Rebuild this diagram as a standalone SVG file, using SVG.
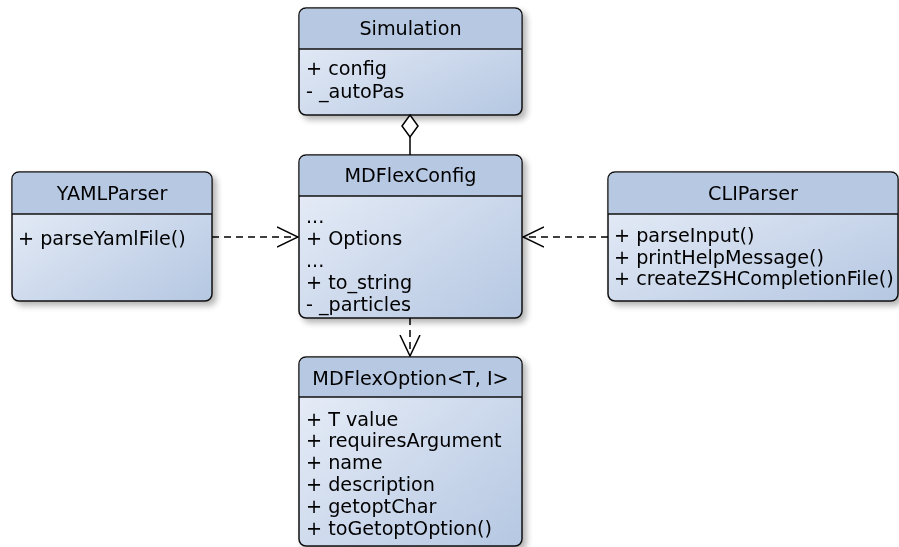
<svg xmlns="http://www.w3.org/2000/svg" width="899" height="547" viewBox="0 0 899 547">
<defs>
<linearGradient id="body" x1="0" y1="0" x2="1" y2="1">
<stop offset="0" stop-color="#ebf0f9"/>
<stop offset="1" stop-color="#b5c7e2"/>
</linearGradient>
<filter id="shadow" x="-10%" y="-10%" width="130%" height="130%">
<feGaussianBlur in="SourceAlpha" stdDeviation="3"/>
<feOffset dx="4" dy="4" result="b"/>
<feComponentTransfer><feFuncA type="linear" slope="0.3"/></feComponentTransfer>
<feMerge><feMergeNode/><feMergeNode in="SourceGraphic"/></feMerge>
</filter>
<marker id="open" viewBox="0 0 22 22" markerWidth="22" markerHeight="22" refX="21" refY="11" orient="auto" markerUnits="userSpaceOnUse">
<path d="M0,1 L21,11 L0,21" fill="none" stroke="#000" stroke-width="1.5"/>
</marker>
</defs>
<style>
.box{fill:url(#body);stroke:#111;stroke-width:1.5}
.hdr{fill:#b7c8e3}
.div{stroke:#111;stroke-width:1.5}
text{font-family:"DejaVu Sans","Liberation Sans",sans-serif;font-size:19.2px;fill:#000}
.t{text-anchor:middle}
.c{fill:none;stroke:#000;stroke-width:1.5}
.d{stroke-dasharray:7,5}
</style>
<g id="Simulation" filter="url(#shadow)">
<rect class="box" x="299" y="8" width="223" height="107" rx="7"/>
<path class="hdr" d="M306,8.75 H515 A6.25,6.25 0 0 1 521.25,15 V49 H299.75 V15 A6.25,6.25 0 0 1 306,8.75 Z"/>
<line class="div" x1="299" y1="49" x2="522" y2="49"/>
<text class="t" x="410.5" y="35">Simulation</text>
<text x="306" y="75">+ config</text>
<text x="306" y="98">- _autoPas</text>
</g>
<g id="MDFlexConfig" filter="url(#shadow)">
<rect class="box" x="299" y="155" width="223" height="163" rx="7"/>
<path class="hdr" d="M306,155.75 H515 A6.25,6.25 0 0 1 521.25,162 V196 H299.75 V162 A6.25,6.25 0 0 1 306,155.75 Z"/>
<line class="div" x1="299" y1="196" x2="522" y2="196"/>
<text class="t" x="410.5" y="182">MDFlexConfig</text>
<text x="306" y="223">...</text>
<text x="306" y="245">+ Options</text>
<text x="306" y="267">...</text>
<text x="306" y="289">+ to_string</text>
<text x="306" y="311">- _particles</text>
</g>
<g id="YAMLParser" filter="url(#shadow)">
<rect class="box" x="12" y="172" width="200" height="129" rx="7"/>
<path class="hdr" d="M19,172.75 H205 A6.25,6.25 0 0 1 211.25,179 V214 H12.75 V179 A6.25,6.25 0 0 1 19,172.75 Z"/>
<line class="div" x1="12" y1="214" x2="212" y2="214"/>
<text class="t" x="112" y="200">YAMLParser</text>
<text x="18" y="245">+ parseYamlFile()</text>
</g>
<g id="CLIParser" filter="url(#shadow)">
<rect class="box" x="608" y="172" width="290" height="129" rx="7"/>
<path class="hdr" d="M615,172.75 H891 A6.25,6.25 0 0 1 897.25,179 V214 H608.75 V179 A6.25,6.25 0 0 1 615,172.75 Z"/>
<line class="div" x1="608" y1="214" x2="898" y2="214"/>
<text class="t" x="753" y="200">CLIParser</text>
<text x="614" y="242">+ parseInput()</text>
<text x="614" y="264">+ printHelpMessage()</text>
<text x="614" y="285">+ createZSHCompletionFile()</text>
</g>
<g id="MDFlexOption" filter="url(#shadow)">
<rect class="box" x="299" y="357" width="223" height="189" rx="7"/>
<path class="hdr" d="M306,357.75 H515 A6.25,6.25 0 0 1 521.25,364 V397 H299.75 V364 A6.25,6.25 0 0 1 306,357.75 Z"/>
<line class="div" x1="299" y1="397" x2="522" y2="397"/>
<text class="t" x="410.5" y="385">MDFlexOption&lt;T, I&gt;</text>
<text x="306" y="426">+ T value</text>
<text x="306" y="447">+ requiresArgument</text>
<text x="306" y="469">+ name</text>
<text x="306" y="491">+ description</text>
<text x="306" y="513">+ getoptChar</text>
<text x="306" y="535">+ toGetoptOption()</text>
</g>
<g id="connectors">
<path class="c" d="M410,137 V155"/>
<path d="M410,115 L418,126 L410,137 L402,126 Z" fill="#fff" stroke="#000" stroke-width="1.5"/>
<path class="c d" d="M212,237 H298" marker-end="url(#open)"/>
<path class="c d" d="M608,237 H523" marker-end="url(#open)"/>
<path class="c d" d="M410,318 V356" marker-end="url(#open)"/>
</g>
</svg>
